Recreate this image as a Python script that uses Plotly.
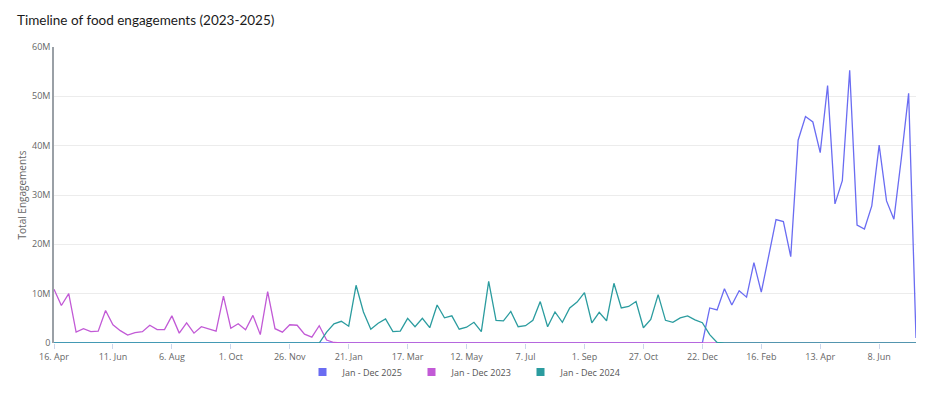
import pandas as pd
import plotly.graph_objects as go

# Weekly dates (Sunday weeks) shown on the x axis
week_start = "2023-04-16"
n_weeks = 118
weeks = pd.date_range(week_start, periods=n_weeks, freq="7D")

# Total engagements in millions per week
jan_dec_2023 = [
    10.9, 7.6, 10.0, 2.2, 2.9, 2.3, 2.4, 6.6, 3.7, 2.5,
    1.6, 2.1, 2.3, 3.6, 2.7, 2.7, 5.5, 2.0, 4.1, 2.0,
    3.3, 2.9, 2.4, 9.5, 3.0, 3.9, 2.7, 5.6, 1.7, 10.4,
    2.9, 2.2, 3.7, 3.6, 1.8, 1.2, 3.5, 0.6, 0.1, 0,
    0, 0, 0, 0, 0, 0, 0, 0, 0, 0,
    0, 0, 0, 0, 0, 0, 0, 0, 0, 0,
    0, 0, 0, 0, 0, 0, 0, 0, 0, 0,
    0, 0, 0, 0, 0, 0, 0, 0, 0, 0,
    0, 0, 0, 0, 0, 0, 0, 0, 0, 0,
    0, 0, 0, 0, 0, 0, 0, 0, 0, 0,
    0, 0, 0, 0, 0, 0, 0, 0, 0, 0,
    0, 0, 0, 0, 0, 0, 0, 0,
]
jan_dec_2024 = [
    0, 0, 0, 0, 0, 0, 0, 0, 0, 0,
    0, 0, 0, 0, 0, 0, 0, 0, 0, 0,
    0, 0, 0, 0, 0, 0, 0, 0, 0, 0,
    0, 0, 0, 0, 0, 0, 0, 2.2, 3.9, 4.4,
    3.4, 11.7, 6.3, 2.8, 4.0, 4.9, 2.3, 2.4, 5.0, 3.3,
    5.0, 3.1, 7.7, 5.1, 5.5, 2.8, 3.2, 4.2, 2.3, 12.5,
    4.6, 4.5, 6.4, 3.3, 3.5, 4.6, 8.4, 3.3, 6.3, 4.2,
    7.1, 8.3, 10.2, 4.1, 6.2, 4.5, 12.1, 7.1, 7.4, 8.4,
    3.1, 4.8, 9.8, 4.6, 4.2, 5.1, 5.5, 4.7, 4.1, 1.7,
    0.1, 0, 0, 0, 0, 0, 0, 0, 0, 0,
    0, 0, 0, 0, 0, 0, 0, 0, 0, 0,
    0, 0, 0, 0, 0, 0, 0, 0,
]
jan_dec_2025 = [
    0, 0, 0, 0, 0, 0, 0, 0, 0, 0,
    0, 0, 0, 0, 0, 0, 0, 0, 0, 0,
    0, 0, 0, 0, 0, 0, 0, 0, 0, 0,
    0, 0, 0, 0, 0, 0, 0, 0, 0, 0,
    0, 0, 0, 0, 0, 0, 0, 0, 0, 0,
    0, 0, 0, 0, 0, 0, 0, 0, 0, 0,
    0, 0, 0, 0, 0, 0, 0, 0, 0, 0,
    0, 0, 0, 0, 0, 0, 0, 0, 0, 0,
    0, 0, 0, 0, 0, 0, 0, 0, 0, 7.1,
    6.7, 11.0, 7.7, 10.6, 9.3, 16.3, 10.3, 17.6, 25.0, 24.6,
    17.5, 41.1, 45.9, 44.8, 38.6, 52.2, 28.2, 32.9, 55.3, 23.9,
    23.1, 27.8, 40.1, 28.8, 25.1, 37.3, 50.6, 1.0,
]

series_names = ["Jan - Dec 2025", "Jan - Dec 2023", "Jan - Dec 2024"]
series_values = [jan_dec_2025, jan_dec_2023, jan_dec_2024]
series_colors = ["#6a6cf2", "#c25ad6", "#2b9c9f"]

fig = go.Figure()
for name, vals, col in zip(series_names, series_values, series_colors):
    fig.add_trace(go.Scatter(
        x=weeks, y=[v * 1e6 for v in vals], mode="lines", name=name,
        line=dict(color=col, width=1.3), showlegend=False,
    ))
for name, col in zip(series_names, series_colors):
    fig.add_trace(go.Scatter(
        x=[None], y=[None], mode="markers", name=name,
        marker=dict(symbol="square", size=8, color=col),
    ))

# the page body adds an 8px offset, so the figure is laid out 8px up/left
OFF = 8
W, H = 936 - 2 * OFF, 394 - 2 * OFF
L, T = 54 - OFF, 47 - OFF
R = W - (916 - OFF)
B = H - (343 - OFF)


def cx(x):
    return (x - OFF) / W


def cy(y):
    return 1 - (y - OFF) / H


fig.update_layout(
    width=W, height=H,
    margin=dict(l=L, r=R, t=T, b=B, autoexpand=False),
    paper_bgcolor="white",
    plot_bgcolor="rgba(0,0,0,0)",
    font=dict(family="Open Sans", size=9, color="#666666"),
    title=dict(
        text="Timeline of food engagements (2023-2025)",
        font=dict(family="Lato", size=13.5, color="#1a1a1a"),
        x=cx(17), xanchor="left", xref="container",
        y=cy(20), yanchor="middle", yref="container",
    ),
    legend=dict(
        orientation="h", xref="container", yref="container",
        x=cx(466), xanchor="center",
        y=cy(372), yanchor="middle",
        font=dict(family="Open Sans", size=9, color="#555555"),
        itemwidth=30, entrywidth=64, entrywidthmode="pixels",
        bgcolor="rgba(0,0,0,0)",
    ),
    showlegend=True,
    hovermode="x unified",
)
fig.update_xaxes(
    type="date",
    range=[weeks[0], weeks[-1]],
    tick0=week_start, dtick=56 * 86400000,
    tickformat="%-d. %b",
    ticks="outside", ticklen=5, tickcolor="#ccd6eb",
    showgrid=False, zeroline=False, showline=False,
    tickfont=dict(size=9, color="#666666"),
)
fig.update_yaxes(
    range=[0, 60e6], dtick=10e6, tickformat="~s",
    showgrid=True, gridcolor="#ececec", gridwidth=1,
    zeroline=False, showline=True, linecolor="#9aa0a6", linewidth=1.5,
    ticks="", tickfont=dict(size=9, color="#666666"),
    title=dict(text="Total Engagements", standoff=4,
               font=dict(size=10, color="#666666")),
)

fig.write_html("out.html")
